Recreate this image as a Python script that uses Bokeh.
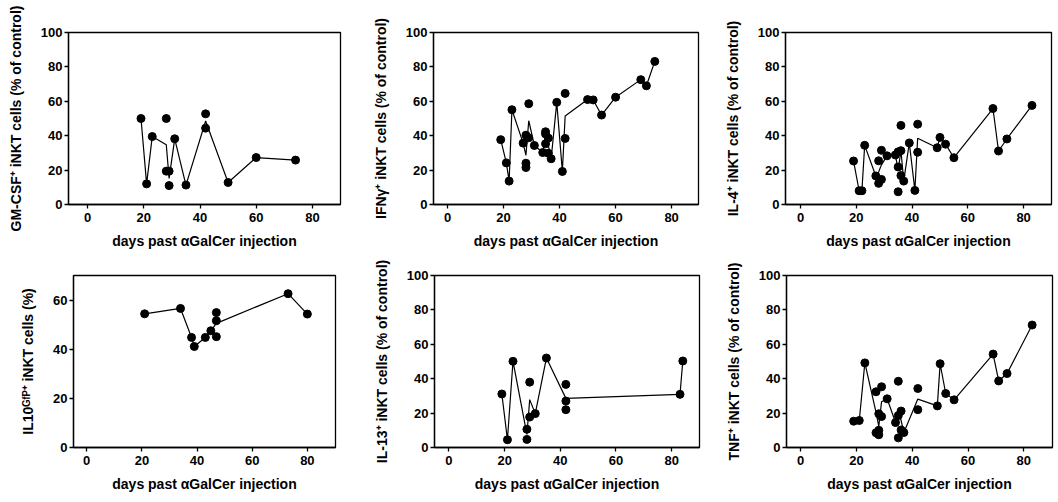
import pandas as pd
from bokeh.plotting import figure
from bokeh.layouts import row, column
from bokeh.models import FixedTicker, Range1d
from bokeh.embed import file_html
from bokeh.resources import INLINE

# ---- data (days, % values) ----
gm_x = [19, 21, 23, 28, 28, 29, 29, 31, 35, 42, 42, 50, 60, 74]
gm_y = [50, 12, 39.5, 50, 19.4, 19.4, 11, 38.2, 11.3, 52.7, 44.4, 12.8, 27.3, 25.8]

ifn_x = [19, 21, 22, 23, 27, 28, 28, 28, 29, 29, 31, 34, 35, 35, 35, 36, 36, 37, 39, 41, 42, 42,
         50, 52, 55, 60, 69, 71, 74]
ifn_y = [37.7, 24.2, 13.6, 55.1, 35.7, 40.3, 24.0, 21.5, 58.6, 38.8, 34.3, 30.2, 42.3, 41.0, 35.3,
         38.6, 29.8, 26.6, 59.4, 19.2, 64.6, 38.4, 61.0, 60.8, 52.0, 62.4, 72.6, 69.0, 83.2]

il4_x = [19, 21, 22, 23, 27, 28, 28, 29, 29, 31, 34, 35, 35, 35, 36, 36, 36, 37, 39, 41, 42, 42,
         49, 50, 52, 55, 69, 71, 74, 83]
il4_y = [25.3, 8.0, 8.0, 34.4, 16.6, 25.4, 12.3, 31.5, 14.6, 28.3, 28.8, 7.4, 21.8, 30.6, 46.0,
         31.3, 16.8, 13.6, 35.8, 8.2, 46.7, 30.4, 33.0, 39.0, 35.1, 27.2, 55.8, 31.1, 38.1, 57.6]

il10_x = [21, 34, 38, 39, 43, 45, 47, 47, 47, 73, 80]
il10_y = [54.4, 56.6, 44.8, 41.1, 44.8, 47.5, 54.9, 51.6, 45.1, 62.6, 54.3]

il13_x = [19, 21, 23, 28, 28, 29, 29, 31, 35, 42, 42, 42, 83, 84]
il13_y = [31.1, 4.5, 50.1, 10.6, 4.7, 38.0, 17.7, 19.7, 52.0, 36.7, 27.0, 22.0, 30.9, 50.3]

tnf_x = [19, 21, 23, 27, 27, 28, 28, 28, 29, 29, 31, 34, 35, 35, 35, 36, 36, 37, 42, 42,
         49, 50, 52, 55, 69, 71, 74, 83]
tnf_y = [15.3, 15.7, 49.2, 32.4, 8.6, 19.6, 10.0, 7.4, 35.3, 18.0, 28.3, 14.5, 38.5, 18.6, 5.6,
         21.2, 10.2, 8.7, 34.3, 22.0, 24.2, 48.7, 31.4, 27.7, 54.3, 38.7, 43.0, 71.2]

x_ticks = [0, 20, 40, 60, 80]
y_ticks_100 = [0, 20, 40, 60, 80, 100]
y_ticks_70 = [0, 20, 40, 60]
x_label = "days past \u03b1GalCer injection"

FONT = "Liberation Sans"


def panel(xs, ys, ylabel, w, h, borders, xr, yr, yticks):
    left, right, top, bottom = borders
    p = figure(width=w, height=h, output_backend="svg", toolbar_location=None,
               x_range=Range1d(*xr), y_range=Range1d(*yr),
               min_border_left=left, min_border_right=right,
               min_border_top=top, min_border_bottom=bottom)
    p.background_fill_color = "white"
    p.border_fill_color = "white"
    p.outline_line_color = "black"
    p.outline_line_width = 1.3
    p.xgrid.visible = False
    p.ygrid.visible = False
    df = pd.DataFrame({"x": xs, "y": ys})
    m = df.groupby("x", as_index=False)["y"].mean().sort_values("x")
    p.line(m["x"], m["y"], line_color="black", line_width=1.2)
    p.scatter(df["x"], df["y"], size=8, fill_color="black", line_color="black")
    for ax in (p.xaxis[0], p.yaxis[0]):
        ax.axis_line_width = 1.3
        ax.major_tick_line_width = 1.3
        ax.major_tick_out = 4
        ax.major_tick_in = 0
        ax.minor_tick_line_color = None
        ax.major_label_text_font = FONT
        ax.major_label_text_font_style = "bold"
        ax.major_label_text_font_size = "13px"
        ax.major_label_text_color = "black"
        ax.axis_label_text_font = FONT
        ax.axis_label_text_font_style = "bold"
        ax.axis_label_text_color = "black"
    p.xaxis.ticker = FixedTicker(ticks=x_ticks)
    p.yaxis.ticker = FixedTicker(ticks=yticks)
    p.xaxis.axis_label = x_label
    p.xaxis.axis_label_text_font_size = "14px"
    p.xaxis.axis_label_standoff = 8
    p.xaxis.major_label_standoff = 4
    p.yaxis.axis_label = ylabel
    p.yaxis.axis_label_text_font_size = "14px"
    p.yaxis.axis_label_standoff = 14
    p.yaxis.major_label_standoff = 2
    return p


p1 = panel(gm_x, gm_y, "GM-CSF\u207a iNKT cells (% of control)", 352, 251,
           (68, 12, 27, 47), (-6.8, 90), (0, 100), y_ticks_100)
p2 = panel(ifn_x, ifn_y, "IFN\u03b3\u207a iNKT cells (% of control)", 353, 251,
           (81, 7, 32, 43), (-5.0, 89.6), (0, 100), y_ticks_100)
p3 = panel(il4_x, il4_y, "IL-4\u207a iNKT cells (% of control)", 353, 251,
           (80, 7, 32, 43), (-5.4, 90), (0, 100), y_ticks_100)
p4 = panel(il10_x, il10_y, "IL10\u1d33\u1da0\u1d3e\u207a iNKT cells (%)", 352, 251,
           (73, 17, 21, 55), (-4.8, 90.2), (0, 70), y_ticks_70)
p5 = panel(il13_x, il13_y, "IL-13\u207a iNKT cells (% of control)", 353, 251,
           (82, 6, 24, 48), (-5.2, 90), (0, 100), y_ticks_100)
p6 = panel(tnf_x, tnf_y, "TNF\u207a iNKT cells (% of control)", 353, 251,
           (81, 6, 22, 53), (-5.1, 90.3), (0, 100), y_ticks_100)

layout = column(row(p1, p2, p3, spacing=0), row(p4, p5, p6, spacing=0), spacing=0)
open("out.html", "w").write(file_html(layout, INLINE))
